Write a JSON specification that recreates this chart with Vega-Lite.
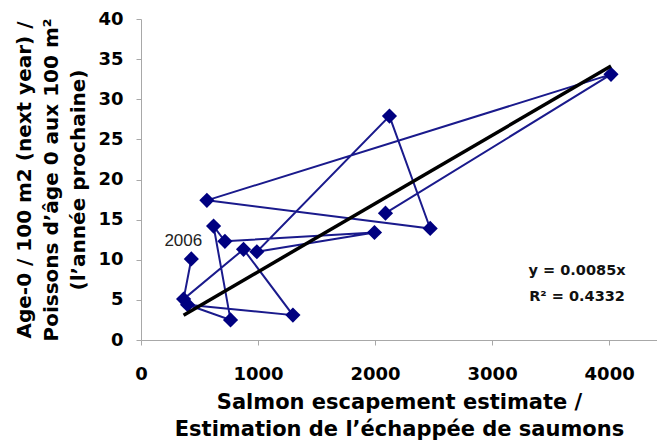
{
  "$schema": "https://vega.github.io/schema/vega-lite/v6.json",
  "width": 516,
  "height": 321,
  "autosize": {"type": "none"},
  "padding": {"left": 141, "top": 19, "right": 0, "bottom": 103},
  "background": "white",
  "config": {"view": {"stroke": null}},
  "datasets": {
    "obs": [
      {"year": 1992, "x": 2089, "y": 15.8},
      {"year": 1993, "x": 4016, "y": 33.1},
      {"year": 1994, "x": 563, "y": 17.4},
      {"year": 1995, "x": 2471, "y": 13.9},
      {"year": 1996, "x": 2123, "y": 27.9},
      {"year": 1997, "x": 990, "y": 11.0},
      {"year": 1998, "x": 1995, "y": 13.4},
      {"year": 1999, "x": 717, "y": 12.3},
      {"year": 2000, "x": 620, "y": 14.2},
      {"year": 2001, "x": 765, "y": 2.5},
      {"year": 2002, "x": 398, "y": 4.4},
      {"year": 2003, "x": 1298, "y": 3.1},
      {"year": 2004, "x": 876, "y": 11.3},
      {"year": 2005, "x": 364, "y": 5.1},
      {"year": 2006, "x": 430, "y": 10.1}
    ],
    "trend": [
      {"x": 364, "y": 3.09},
      {"x": 4016, "y": 34.14}
    ],
    "eq": [
      {"x": 3726, "y": 8.6, "label": "y = 0.0085x"},
      {"x": 3726, "y": 5.4, "label": "R² = 0.4332"}
    ]
  },
  "encoding": {
    "x": {
      "field": "x", "type": "quantitative",
      "scale": {"domain": [0, 4409], "nice": false, "zero": false},
      "axis": {
        "title": ["Salmon escapement estimate /", "Estimation de l’échappée de saumons"],
        "values": [0, 1000, 2000, 3000, 4000],
        "format": "d",
        "grid": false,
        "domainColor": "#a8a8a8", "tickColor": "#a8a8a8", "tickSize": 5,
        "labelFont": "DejaVu Sans", "labelFontWeight": "bold", "labelFontSize": 18,
        "labelColor": "black", "labelPadding": 20, "labelFlush": false,
        "titleFont": "DejaVu Sans", "titleFontWeight": "bold", "titleFontSize": 21,
        "titleLineHeight": 27, "titlePadding": 8, "titleColor": "black"
      }
    },
    "y": {
      "field": "y", "type": "quantitative",
      "scale": {"domain": [0, 40], "nice": false},
      "axis": {
        "title": ["Age-0 / 100 m2 (next year) /", "Poissons d’âge 0 aux 100 m²", "(l’année prochaine)"],
        "values": [0, 5, 10, 15, 20, 25, 30, 35, 40],
        "grid": false,
        "domainColor": "#a8a8a8", "tickColor": "#a8a8a8", "tickSize": 5,
        "labelFont": "DejaVu Sans", "labelFontWeight": "bold", "labelFontSize": 18,
        "labelColor": "black", "labelPadding": 13, "labelFlush": false,
        "titleFont": "DejaVu Sans", "titleFontWeight": "bold", "titleFontSize": 20,
        "titleLineHeight": 27, "titlePadding": 9, "titleColor": "black"
      }
    }
  },
  "layer": [
    {
      "data": {"name": "obs"},
      "mark": {"type": "line", "color": "#1a1a8c", "strokeWidth": 2},
      "encoding": {"order": {"field": "year", "type": "quantitative"}}
    },
    {
      "data": {"name": "obs"},
      "mark": {"type": "point", "shape": "diamond", "filled": true, "color": "#000080", "size": 230, "opacity": 1}
    },
    {
      "data": {"name": "trend"},
      "mark": {"type": "line", "color": "black", "strokeWidth": 3.5}
    },
    {
      "data": {"name": "obs"},
      "transform": [{"filter": "datum.year == 2006"}],
      "mark": {"type": "text", "dx": -8, "dy": -18, "font": "Liberation Sans", "fontSize": 17, "color": "#222222", "align": "center", "baseline": "middle"},
      "encoding": {"text": {"field": "year", "type": "nominal"}}
    },
    {
      "data": {"name": "eq"},
      "mark": {"type": "text", "font": "DejaVu Sans", "fontSize": 14.5, "fontWeight": 600, "color": "#111111", "align": "center", "baseline": "middle"},
      "encoding": {"text": {"field": "label", "type": "nominal"}}
    }
  ]
}
